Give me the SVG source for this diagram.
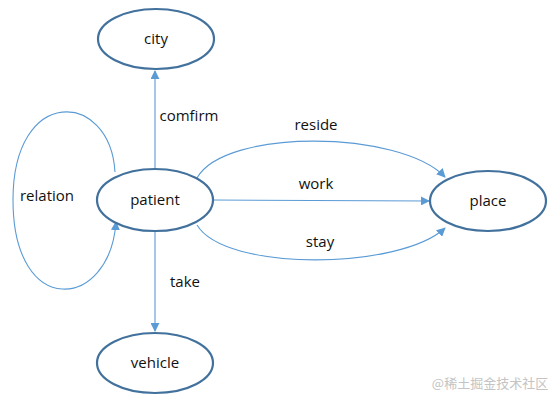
<svg xmlns="http://www.w3.org/2000/svg" width="555" height="404" viewBox="0 0 555 404">
<style>
.node{fill:#fff;stroke:#41719C;stroke-width:2.2}
.lbl{font-family:"Open Sans","Liberation Sans",sans-serif;font-size:15px;fill:#111;text-anchor:middle}
.edge{fill:none;stroke:#5B9BD5;stroke-width:1.1;marker-end:url(#ah)}
.wm{font-family:"Noto Sans CJK SC",sans-serif;font-size:13px;fill:#c4c4c4;text-anchor:middle}
</style>
<defs>
<marker id="ah" viewBox="0 0 10 10" refX="9" refY="5" markerWidth="9" markerHeight="9" markerUnits="userSpaceOnUse" orient="auto">
<path d="M0,0 L10,5 L0,10 z" fill="#5B9BD5"/>
</marker>
</defs>
<rect width="555" height="404" fill="#fff"/>
<g id="edges">
<path class="edge" d="M155,168 L155,71"/>
<path class="edge" d="M155,231 L155,331"/>
<path class="edge" d="M213,200 L429,201"/>
<path class="edge" d="M197,178 C225,128 400,130 445,177"/>
<path class="edge" d="M197,225 C225,272 400,270 445,228"/>
<path class="edge" d="M115,172 C110,90 13,85 13,200 C13,320 110,310 116,222"/>
<text class="lbl" x="189" y="121">comfirm</text>
<text class="lbl" x="185" y="287">take</text>
<text class="lbl" x="316" y="189">work</text>
<text class="lbl" x="316" y="130">reside</text>
<text class="lbl" x="320" y="247">stay</text>
<text class="lbl" x="47" y="201">relation</text>
</g>
<g id="city"><ellipse class="node" cx="156" cy="39" rx="58" ry="30"/><text class="lbl" x="156" y="44">city</text></g>
<g id="patient"><ellipse class="node" cx="155" cy="200" rx="58" ry="31"/><text class="lbl" x="155" y="205">patient</text></g>
<g id="vehicle"><ellipse class="node" cx="155" cy="363" rx="58" ry="30"/><text class="lbl" x="155" y="368">vehicle</text></g>
<g id="place"><ellipse class="node" cx="488" cy="201" rx="58" ry="30"/><text class="lbl" x="488" y="206">place</text></g>
<text class="wm" x="490" y="388">@稀土掘金技术社区</text>
</svg>
